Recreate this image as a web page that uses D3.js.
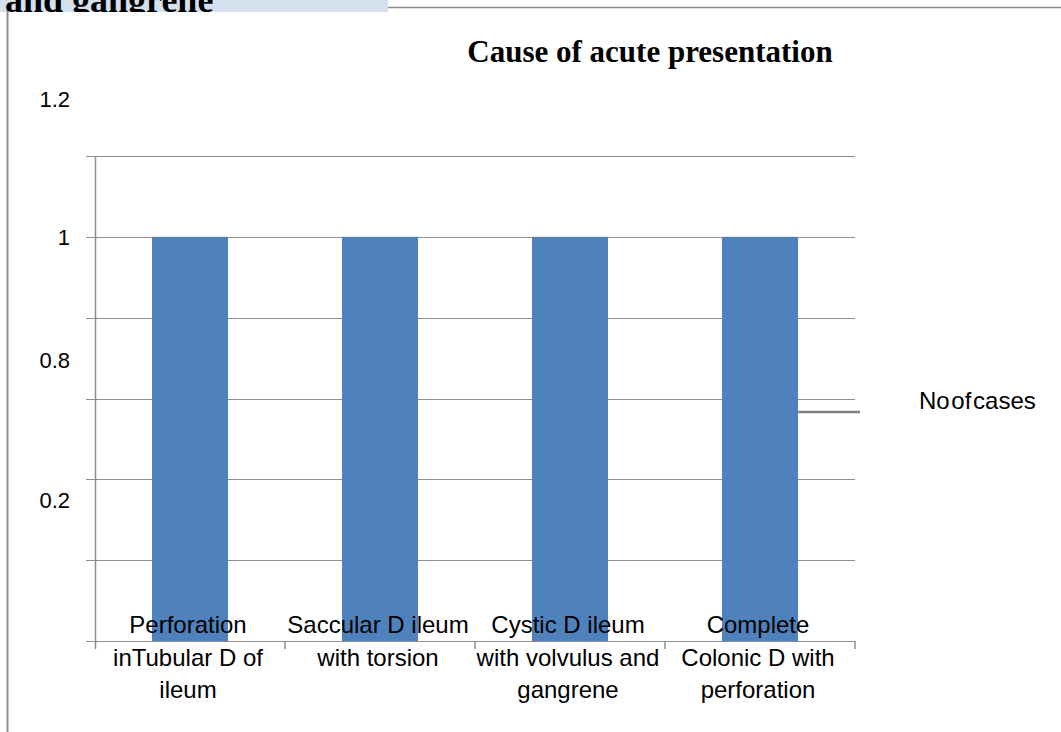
<!DOCTYPE html>
<html>
<head>
<meta charset="utf-8">
<script src="https://cdn.jsdelivr.net/npm/d3@7"></script>
<style>
  html, body { margin: 0; padding: 0; background: #fff; }
  svg { display: block; }
</style>
</head>
<body>
<svg id="chart" width="1061" height="732"></svg>
<script>
// Chart data
const categories = [
  "Perforation inTubular D of ileum",
  "Saccular D ileum with torsion",
  "Cystic D ileum with volvulus and gangrene",
  "Complete Colonic D with perforation"
];
const categoryLines = [
  ["Perforation", "inTubular D of", "ileum"],
  ["Saccular D ileum", "with torsion"],
  ["Cystic D ileum", "with volvulus and", "gangrene"],
  ["Complete", "Colonic D with", "perforation"]
];
const cases = [1, 1, 1, 1];
const seriesName = "No of cases";
const gridValues = [0, 0.2, 0.4, 0.6, 0.8, 1.0, 1.2];
const tickLabels = ["1.2", "1", "0.8", "0.2"];
const chartTitle = "Cause of acute presentation";
const clippedHeading = "and gangrene";

// Where each axis label sits along the value axis
const tickLabelAnchors = [1.34, 1.0, 0.695, 0.348];

const W = 1061, H = 732;
const plot = { left: 95, right: 855, top: 156, bottom: 641 };
const gridColor = "#8f8f8f";
const barColor = "#4f81bd";

const svg = d3.select("#chart");

const x = d3.scaleBand()
  .domain(categories)
  .range([plot.left, plot.right])
  .padding(0);

const y = d3.scaleLinear()
  .domain([0, 1.2])
  .range([plot.bottom, plot.top]);

// Page frame: heading strip, top rule and left rule
svg.append("defs").append("clipPath").attr("id", "headClip")
  .append("rect").attr("x", 0).attr("y", 0).attr("width", 388).attr("height", 12);

svg.append("rect")
  .attr("x", 0).attr("y", 0).attr("width", 388).attr("height", 12)
  .attr("fill", "#d5e0ef");

svg.append("text")
  .attr("clip-path", "url(#headClip)")
  .attr("x", 5).attr("y", 12)
  .attr("font-family", "'Liberation Serif', 'Times New Roman', serif")
  .attr("font-weight", "bold")
  .attr("font-size", 36)
  .attr("fill", "#000")
  .text(clippedHeading);

svg.append("line")
  .attr("x1", 388).attr("x2", W).attr("y1", 7.5).attr("y2", 7.5)
  .attr("stroke", gridColor).attr("stroke-width", 1.5);

svg.append("line")
  .attr("x1", 7.5).attr("x2", 7.5).attr("y1", 11).attr("y2", H)
  .attr("stroke", gridColor).attr("stroke-width", 2);

// Title
svg.append("text")
  .attr("x", 650).attr("y", 62)
  .attr("text-anchor", "middle")
  .attr("font-family", "'Liberation Serif', 'Times New Roman', serif")
  .attr("font-weight", "bold")
  .attr("font-size", 31)
  .attr("fill", "#000")
  .text(chartTitle);

// Horizontal gridlines with left tick stubs
svg.append("g")
  .selectAll("line")
  .data(gridValues)
  .join("line")
  .attr("x1", plot.left - 9).attr("x2", plot.right)
  .attr("y1", d => Math.round(y(d)) + 0.5).attr("y2", d => Math.round(y(d)) + 0.5)
  .attr("stroke", gridColor).attr("stroke-width", 1.2);

// Value axis line
svg.append("line")
  .attr("x1", plot.left + 0.5).attr("x2", plot.left + 0.5)
  .attr("y1", plot.top).attr("y2", plot.bottom + 8)
  .attr("stroke", gridColor).attr("stroke-width", 1.5);

// Category axis tick marks at band boundaries
const boundaries = categories.map(c => x(c)).concat([x(categories[categories.length - 1]) + x.bandwidth()]).slice(1);
svg.append("g")
  .selectAll("line")
  .data(boundaries)
  .join("line")
  .attr("x1", d => d).attr("x2", d => d)
  .attr("y1", plot.bottom).attr("y2", plot.bottom + 8)
  .attr("stroke", gridColor).attr("stroke-width", 1.5);

// Value labels
svg.append("g")
  .selectAll("text")
  .data(tickLabels)
  .join("text")
  .attr("x", 70)
  .attr("y", (d, i) => y(tickLabelAnchors[i]))
  .attr("dy", "0.36em")
  .attr("text-anchor", "end")
  .attr("font-family", "'Liberation Sans', Arial, sans-serif")
  .attr("font-size", 22)
  .attr("fill", "#000")
  .text(d => d);

// Legend key line (sits behind the last bar)
svg.append("line")
  .attr("x1", 790).attr("x2", 860).attr("y1", 412).attr("y2", 412)
  .attr("stroke", "#808080").attr("stroke-width", 2.5);

// Bars
const barW = x.bandwidth() * 0.4;
svg.append("g")
  .selectAll("rect")
  .data(cases)
  .join("rect")
  .attr("x", (d, i) => x(categories[i]) + (x.bandwidth() - barW) / 2)
  .attr("y", d => y(d))
  .attr("width", barW)
  .attr("height", d => y(0) - y(d))
  .attr("fill", barColor);

// Category labels (first line overlaps the bar bottoms)
const catG = svg.append("g")
  .attr("font-family", "'Liberation Sans', Arial, sans-serif")
  .attr("font-size", 24)
  .attr("fill", "#000")
  .attr("text-anchor", "middle");

categoryLines.forEach((lines, i) => {
  const cx = x(categories[i]) + x.bandwidth() / 2 - 2;
  catG.append("text")
    .selectAll("tspan")
    .data(lines)
    .join("tspan")
    .attr("x", cx)
    .attr("y", (d, k) => plot.bottom - 8 + k * 32.5)
    .text(d => d);
});

// Series legend text
svg.append("text")
  .attr("x", 919).attr("y", 400)
  .attr("dy", "0.36em")
  .attr("font-family", "'Liberation Sans', Arial, sans-serif")
  .attr("font-size", 24)
  .attr("word-spacing", -5)
  .attr("fill", "#000")
  .text(seriesName);
</script>
</body>
</html>
